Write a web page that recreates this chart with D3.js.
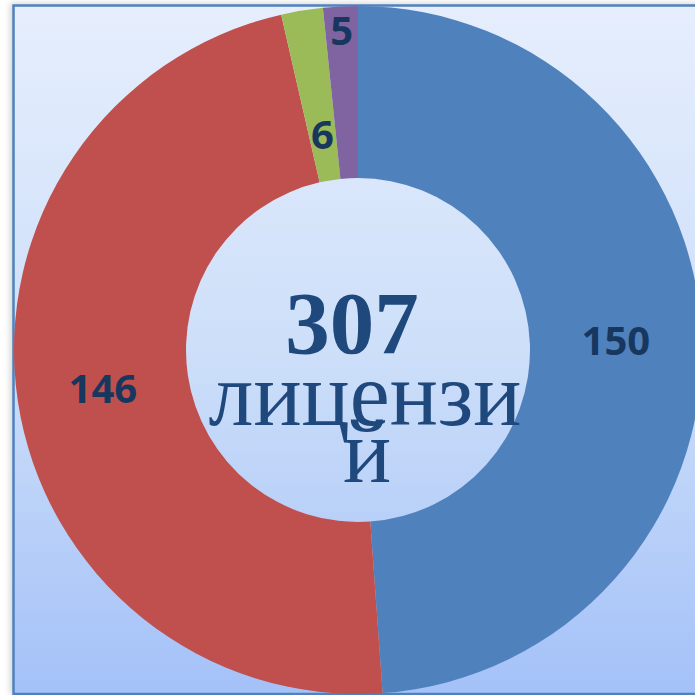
<!DOCTYPE html>
<html>
<head>
<meta charset="utf-8">
<script src="https://cdn.jsdelivr.net/npm/d3@7"></script>
<style>
  html, body { margin: 0; padding: 0; background: #fff; }
  svg { display: block; }
</style>
</head>
<body>
<div id="chart"></div>
<script>
const width = 695
const height = 695

// data
const categories = ["A", "B", "C", "D"]
const values = [150, 146, 6, 5]
const colors = ["#4f81bd", "#c0504d", "#9bbb59", "#8064a2"]
// small slices had their labels pulled in/out, so each label gets its own radius
const labelRadius = [258, 258, 218, 320]
const totalLabel = "307"
const unitLines = ["лицензи", "й"]

const cx = 358, cy = 350
const outerR = 344, innerR = 172

const svg = d3.select("#chart").append("svg")
    .attr("width", width)
    .attr("height", height)

const defs = svg.append("defs")
const grad = defs.append("linearGradient")
    .attr("id", "bg")
    .attr("x1", 0).attr("y1", 0).attr("x2", 0).attr("y2", 1)
grad.append("stop").attr("offset", "0%").attr("stop-color", "#e6eefd")
grad.append("stop").attr("offset", "50%").attr("stop-color", "#cddff9")
grad.append("stop").attr("offset", "100%").attr("stop-color", "#a4c1f8")

const shadow = defs.append("filter").attr("id", "shadow")
    .attr("x", "-5%").attr("y", "-5%").attr("width", "110%").attr("height", "110%")
shadow.append("feDropShadow")
    .attr("dx", -2).attr("dy", -1).attr("stdDeviation", 3)
    .attr("flood-color", "#000").attr("flood-opacity", 0.18)

//frame with gradient, runs off the right and bottom edges
svg.append("rect")
    .attr("x", 13.5).attr("y", 5.5)
    .attr("width", width + 20).attr("height", height - 6.5)
    .attr("fill", "url(#bg)")
    .attr("stroke", "#4f81bd")
    .attr("stroke-width", 2.5)
    .attr("filter", "url(#shadow)")

const pie = d3.pie().sort(null).value(d => d)
const arc = d3.arc().innerRadius(innerR).outerRadius(outerR)
const arcs = pie(values)

const g = svg.append("g").attr("transform", `translate(${cx},${cy})`)

g.selectAll("path.slice")
    .data(arcs)
    .join("path")
    .attr("class", "slice")
    .attr("d", arc)
    .attr("fill", (d, i) => colors[i])

g.selectAll("text.lbl")
    .data(arcs)
    .join("text")
    .attr("class", "lbl")
    .attr("transform", (d, i) => {
        const a = d3.arc().innerRadius(labelRadius[i]).outerRadius(labelRadius[i])
        return `translate(${a.centroid(d)})`
    })
    .attr("text-anchor", "middle")
    .attr("dy", "0.36em")
    .attr("font-family", "'Open Sans', sans-serif")
    .attr("font-weight", "bold")
    .attr("font-size", 40)
    .attr("fill", "#17375e")
    .text(d => d.data)

//center text, three separate lines (the wrapped word overlaps like the original)
const centerFont = "'Liberation Serif', 'Times New Roman', serif"
g.append("text")
    .attr("x", -6).attr("y", 3)
    .attr("text-anchor", "middle")
    .attr("font-family", centerFont)
    .attr("font-weight", "bold")
    .attr("font-size", 89)
    .attr("fill", "#1f497d")
    .text(totalLabel)
g.append("text")
    .attr("x", 7).attr("y", 75)
    .attr("text-anchor", "middle")
    .attr("font-family", centerFont)
    .attr("font-size", 90)
    .attr("fill", "#1f497d")
    .text(unitLines[0])
g.append("text")
    .attr("x", 9).attr("y", 132)
    .attr("text-anchor", "middle")
    .attr("font-family", centerFont)
    .attr("font-size", 90)
    .attr("fill", "#1f497d")
    .text(unitLines[1])
</script>
</body>
</html>
